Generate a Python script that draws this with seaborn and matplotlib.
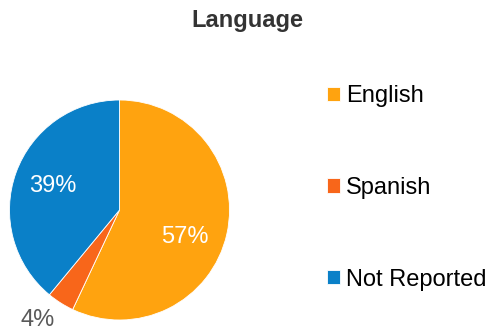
import matplotlib
matplotlib.use('Agg')
import matplotlib.pyplot as plt
import seaborn as sns

sns.set_theme(style='white')
plt.rcParams['font.family'] = ['Liberation Sans', 'DejaVu Sans']

languages = ['English', 'Spanish', 'Not Reported']
shares = [57, 4, 39]
colors = sns.color_palette(['#FFA30F', '#F8661A', '#0A80C8'])

fig = plt.figure(figsize=(4.92, 3.32), dpi=100)
ax = fig.add_axes([9.5 / 492, 12 / 332, 220 / 492, 220 / 332])

wedges, texts, autotexts = ax.pie(shares, colors=colors, startangle=90, counterclock=False,
                                  autopct='%1.0f%%', pctdistance=0.64,
                                  wedgeprops={'linewidth': 0.6, 'edgecolor': 'white'},
                                  textprops={'fontsize': 17})
ax.set_aspect('equal')
ax.set_xlim(-1, 1)
ax.set_ylim(-1, 1)
for t in autotexts:
    t.set_color('white')
# small slice label sits outside, grey
autotexts[1].set_color('#595959')
autotexts[1].set_position((-0.74, -1.0))
# english label is drawn a bit lower than the wedge centre
autotexts[0].set_position((0.595, -0.245))

fig.text(0.502, 0.937, 'Language', ha='center', va='center', fontsize=17,
         fontweight='bold', color='#333333')

fig.legend(wedges, languages, loc='center left', bbox_to_anchor=(0.646, 0.434),
           frameon=False, fontsize=17, handlelength=0.55, handleheight=0.55,
           handletextpad=0.25, labelspacing=2.95, borderaxespad=0, labelcolor='black')

fig.savefig('out.png', dpi=100)
